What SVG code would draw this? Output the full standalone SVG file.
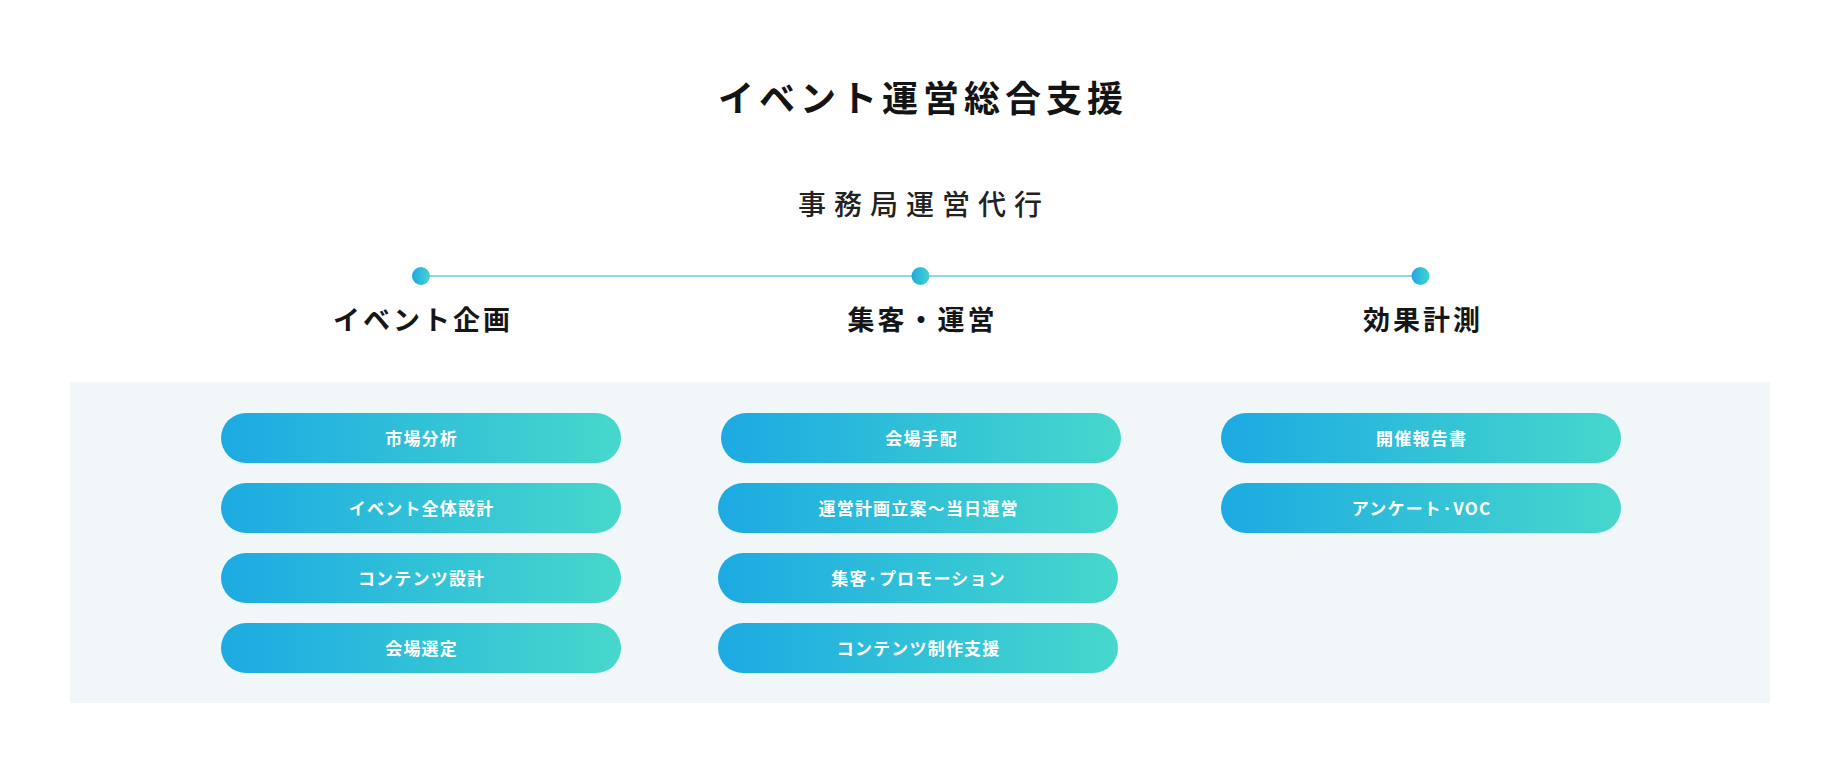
<svg xmlns="http://www.w3.org/2000/svg" width="1840" height="783" viewBox="0 0 1840 783">
<defs>
<linearGradient id="pillGrad" x1="0" y1="0" x2="1" y2="0">
<stop offset="0" stop-color="#1caae2"/>
<stop offset="1" stop-color="#46d8cc"/>
</linearGradient>
<linearGradient id="dotGrad" x1="0" y1="0" x2="1" y2="0">
<stop offset="0" stop-color="#1ea8e2"/>
<stop offset="1" stop-color="#44d4ce"/>
</linearGradient>
<style>
.title{font-family:"Noto Sans CJK JP","Noto Sans CJK SC",sans-serif;font-weight:700;font-size:36px;letter-spacing:5px;fill:#141414;text-anchor:middle}
.sub{font-family:"Noto Sans CJK JP","Noto Sans CJK SC",sans-serif;font-weight:500;font-size:28px;letter-spacing:8px;fill:#222;text-anchor:middle}
.head{font-family:"Noto Sans CJK JP","Noto Sans CJK SC",sans-serif;font-weight:700;font-size:27px;letter-spacing:3px;fill:#161616;text-anchor:middle}
.pill{fill:url(#pillGrad)}
.ptxt{font-family:"Noto Sans CJK JP","Noto Sans CJK SC",sans-serif;font-weight:700;font-size:17px;letter-spacing:1.2px;fill:#ffffff;text-anchor:middle}
.dot{fill:url(#dotGrad)}
.conn{stroke:#1fafdc;stroke-width:1;fill:none}
</style>
</defs>
<rect x="0" y="0" width="1840" height="783" fill="#ffffff"/>
<rect id="panel" x="70" y="382" width="1700" height="321" fill="#f1f6f9"/>

<g id="titles">
<text class="title" x="923" y="112">イベント運営総合支援</text>
<text class="sub" x="924" y="215">事務局運営代行</text>
</g>

<g id="connectors">
<line class="conn" x1="421" y1="276" x2="1420.5" y2="276"/>
</g>

<g id="stage-planning">
<circle class="dot" cx="421" cy="276" r="9"/>
<text class="head" x="423" y="330">イベント企画</text>
</g>
<g id="stage-operation">
<circle class="dot" cx="920.5" cy="276" r="9"/>
<text class="head" x="922.5" y="330">集客・運営</text>
</g>
<g id="stage-measurement">
<circle class="dot" cx="1420.5" cy="276" r="9"/>
<text class="head" x="1423" y="330">効果計測</text>
</g>

<g id="item-market">
<rect class="pill" x="221" y="413" width="400" height="50" rx="25"/>
<text class="ptxt" x="421.6" y="444.5">市場分析</text>
</g>
<g id="item-event-design">
<rect class="pill" x="221" y="483" width="400" height="50" rx="25"/>
<text class="ptxt" x="421.6" y="514.5">イベント全体設計</text>
</g>
<g id="item-content-design">
<rect class="pill" x="221" y="553" width="400" height="50" rx="25"/>
<text class="ptxt" x="421.6" y="584.5">コンテンツ設計</text>
</g>
<g id="item-venue-select">
<rect class="pill" x="221" y="623" width="400" height="50" rx="25"/>
<text class="ptxt" x="421.6" y="654.5">会場選定</text>
</g>

<g id="item-venue-arrange">
<rect class="pill" x="721" y="413" width="400" height="50" rx="25"/>
<text class="ptxt" x="921.6" y="444.5">会場手配</text>
</g>
<g id="item-ops-plan">
<rect class="pill" x="718" y="483" width="400" height="50" rx="25"/>
<text class="ptxt" x="918.6" y="514.5">運営計画立案〜当日運営</text>
</g>
<g id="item-promotion">
<rect class="pill" x="718" y="553" width="400" height="50" rx="25"/>
<text class="ptxt" x="918.6" y="584.5">集客·プロモーション</text>
</g>
<g id="item-content-support">
<rect class="pill" x="718" y="623" width="400" height="50" rx="25"/>
<text class="ptxt" x="918.6" y="654.5">コンテンツ制作支援</text>
</g>

<g id="item-report">
<rect class="pill" x="1221" y="413" width="400" height="50" rx="25"/>
<text class="ptxt" x="1421.6" y="444.5">開催報告書</text>
</g>
<g id="item-survey">
<rect class="pill" x="1221" y="483" width="400" height="50" rx="25"/>
<text class="ptxt" x="1421.6" y="514.5">アンケート·VOC</text>
</g>
</svg>
